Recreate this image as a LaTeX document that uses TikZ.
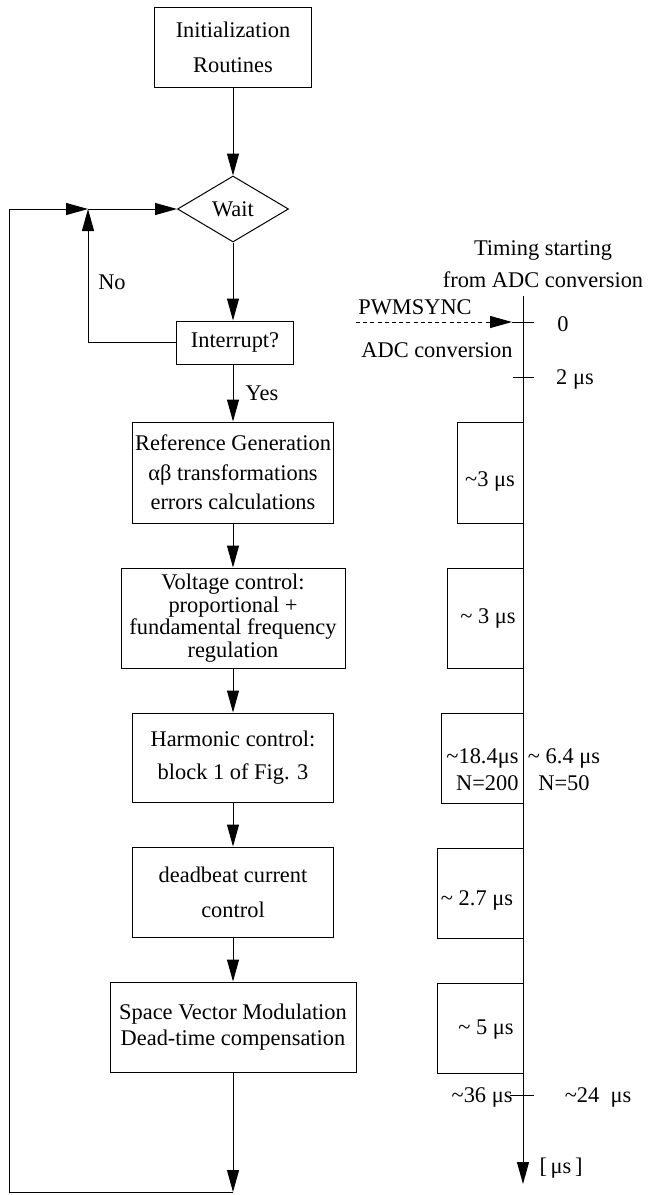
\documentclass[tikz,border=0pt]{standalone}
\usepackage{fontspec}
\setmainfont{Liberation Serif}
\usetikzlibrary{shapes.geometric,arrows.meta}

\newcommand{\setlead}[1]{\fontsize{11.2}{#1}\selectfont}
\newcommand{\tld}{\textasciitilde}

\tikzset{
  blk/.style={draw, line width=0.5pt, align=center, inner sep=0pt},
  arr/.style={-{Triangle[length=11pt,width=6pt]}, line width=0.5pt},
  lbl/.style={inner sep=0pt, align=center},
}

\begin{document}
\begin{tikzpicture}[x=0.5pt, y=-0.5pt, font=\setlead{13}, line width=0.5pt]
    \useasboundingbox (0,0) rectangle (648,1195);

    % Flow chart
    % Blocks
    \node[blk, minimum width=78.5pt, minimum height=40pt, font=\setlead{17.5}] (init) at (233,47) {Initialization\\Routines};
    \node[draw, diamond, aspect=1.7, inner sep=0pt, minimum width=55.5pt, minimum height=33pt] (wait) at (233,209) {Wait};
    \node[blk, minimum width=58.5pt, minimum height=21.5pt] (intr) at (235,342.5) {Interrupt?};
    \node[blk, minimum width=100.5pt, minimum height=50.5pt, font=\setlead{14.75}] (refgen) at (233,472.5) {Reference Generation\\αβ transformations\\errors calculations};
    \node[blk, minimum width=112pt, minimum height=50pt, font=\setlead{9.8}] (volt) at (233,618) {Voltage control:\\proportional +\\fundamental frequency\\regulation};
    \node[blk, minimum width=100.5pt, minimum height=44.5pt, font=\setlead{16.5}] (harm) at (233,757.5) {Harmonic control:\\block 1 of Fig. 3};
    \node[blk, minimum width=100.5pt, minimum height=45pt, font=\setlead{17.5}] (dead) at (233,892) {deadbeat current\\control};
    \node[blk, minimum width=123pt, minimum height=45pt, font=\setlead{13}] (svm) at (233,1027) {Space Vector Modulation\\Dead-time compensation};

    % Labels
    \node[lbl] (no) at (112,282) {No};
    \node[lbl] (yes) at (262,393) {Yes};

    % Loop points
    \coordinate (ret) at (233,1192);
    \coordinate (lc) at (9,1192);
    \coordinate (tl) at (9,209);
    \coordinate (join) at (88,209);

    % Edges
    \draw[arr] (init) -- (wait);
    \draw[arr] (wait) -- (wait |- intr.north);
    \draw[arr] (intr.south -| wait) -- (refgen);
    \draw[arr] (refgen) -- (volt);
    \draw[arr] (volt) -- (harm);
    \draw[arr] (harm) -- (dead);
    \draw[arr] (dead) -- (svm);
    \draw[arr] (svm) -- (ret);
    \draw[arr] (ret) -- (lc) -- (tl) -- (join);
    \draw[arr] (join) -- (wait);
    \draw[arr] (intr.west) -| (join);

    % Timing axis
    \node[lbl, font=\setlead{16}] (title) at (543,264) {Timing starting\\from ADC conversion};
    \coordinate (ax0) at (523,296);
    \coordinate (ax1) at (523,1184);
    \draw[arr] (ax0) -- (ax1);
    \node[lbl, anchor=west] (unit) at (539,1168) {[\,μs\,]};

    % PWMSYNC and ADC
    \node[lbl] (pwm) at (415,307) {PWMSYNC};
    \coordinate (sync) at (356,322);
    \coordinate (tk0a) at (512,322);
    \coordinate (tk0b) at (534,322);
    \draw[arr, dash pattern=on 2pt off 1.6pt] (sync) -- (tk0a);
    \draw (tk0a) -- (tk0b);
    \node[lbl] (zero) at (563,324) {0};
    \node[lbl] (adc) at (437,350) {ADC conversion};
    \coordinate (tk1a) at (513,377);
    \coordinate (tk1b) at (534,377);
    \draw (tk1a) -- (tk1b);
    \node[lbl] (two) at (575,379) {2 μs};

    % Task durations
    \draw (523,422) -- (457,422) -- (457,523) -- (523,523);
    \node[lbl] (dur1) at (490,481) {\tld3 μs};
    \draw (523,568) -- (447,568) -- (447,668) -- (523,668);
    \node[lbl] (dur2) at (488,618) {\tld\ 3 μs};
    \draw (523,713) -- (441,713) -- (441,803) -- (523,803);
    \node[lbl, align=right, anchor=east, font=\setlead{13.5}] (dur3) at (519,770) {\tld18.4μs\\N=200};
    \node[lbl, font=\setlead{13.5}] (dur3b) at (564,770) {\tld\ 6.4 μs\\N=50};
    \draw (523,848) -- (437,848) -- (437,938) -- (523,938);
    \node[lbl] (dur4) at (477,900) {\tld\ 2.7 μs};
    \draw (523,983) -- (437,983) -- (437,1073) -- (523,1073);
    \node[lbl] (dur5) at (486,1030) {\tld\ 5 μs};

    % Totals
    \coordinate (tk2a) at (510,1095);
    \coordinate (tk2b) at (534,1095);
    \draw (tk2a) -- (tk2b);
    \node[lbl, anchor=east] (tot1) at (513,1097) {\tld36 μs};
    \node[lbl] (tot2) at (598,1097) {\tld24\ \ μs};
\end{tikzpicture}
\end{document}
